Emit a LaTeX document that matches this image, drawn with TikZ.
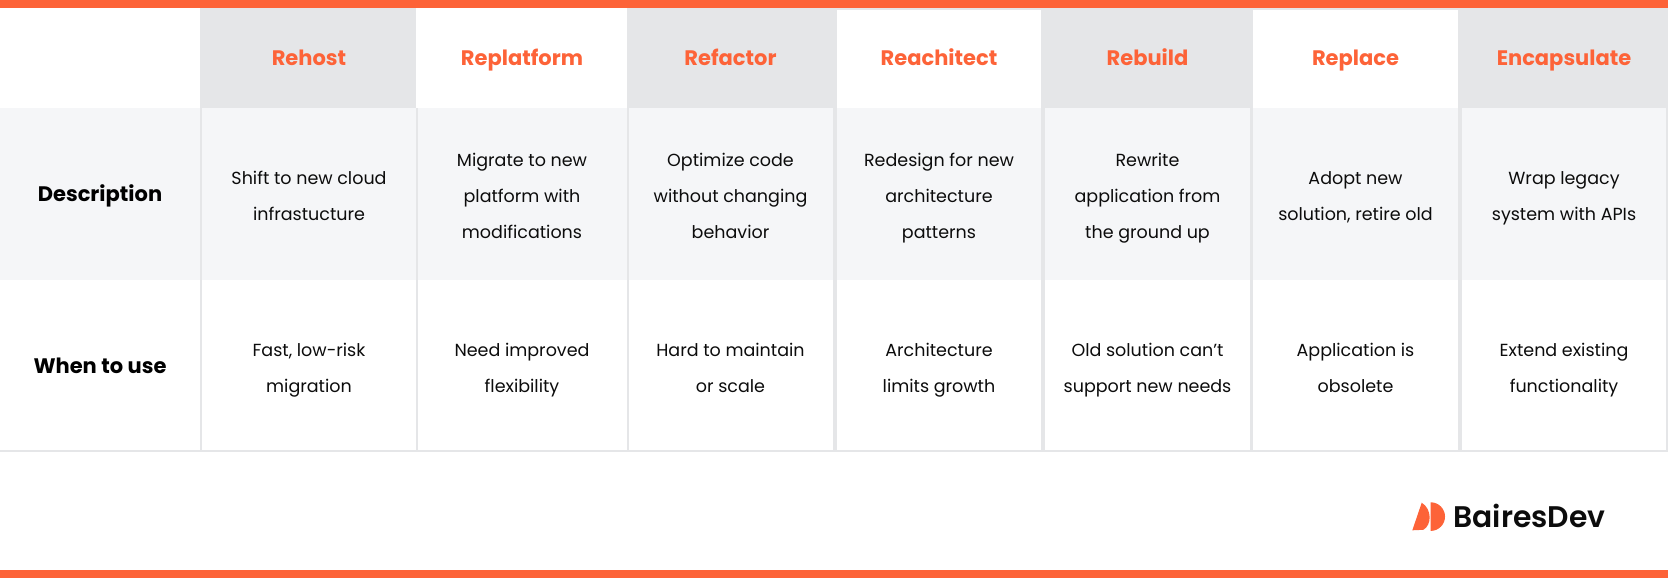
\documentclass[tikz,border=0pt]{standalone}
\usepackage{fontspec}
\setmainfont{Poppins}
\newfontfamily\boldfont{Poppins Bold}
\newfontfamily\medfont{Poppins SemiBold}
\definecolor{brandorange}{HTML}{FD6338}
\definecolor{headgray}{HTML}{E5E6E8}
\definecolor{rowgray}{HTML}{F5F6F8}
\definecolor{inkblack}{HTML}{0C0C0C}
\tikzset{
  x=0.5pt,y=-0.5pt,
  headcell/.style={anchor=base,inner sep=0pt,text=brandorange,font=\boldfont\fontsize{10.5}{12}\selectfont},
  rowcell/.style={anchor=base,inner sep=0pt,text=black,font=\boldfont\fontsize{10.5}{12}\selectfont},
  bodycell/.style={anchor=base,inner sep=0pt,align=center,text=inkblack,font=\fontsize{8.75}{18}\selectfont},
  gridline/.style={draw=none,fill=headgray},
}
\begin{document}
\begin{tikzpicture}
    \useasboundingbox (0,0) rectangle (1668,578);
    \fill[white] (0,0) rectangle (1668,578);
    % bars
    \fill[brandorange] (0,0) rectangle (1668,8);
    \fill[brandorange] (0,569.5) rectangle (1668,577.5);
    % header fields
    \fill[headgray] (836,8) rectangle (1668,10);
    \fill[headgray] (200,8) rectangle (416,108);
    \fill[headgray] (627,8) rectangle (836.5,108);
    \fill[headgray] (1041,8) rectangle (1253,108);
    \fill[headgray] (1458,8) rectangle (1668,108);
    \fill[rowgray] (0,108) rectangle (1668,280);
    % grid
    \fill[gridline] (200,108) rectangle (202,450);
    \fill[gridline] (416,108) rectangle (418,450);
    \fill[gridline] (627,108) rectangle (628.5,450);
    \fill[gridline] (833,108) rectangle (836.5,450);
    \fill[gridline] (1041,108) rectangle (1045,450);
    \fill[gridline] (1249.5,108) rectangle (1253,450);
    \fill[gridline] (1458,108) rectangle (1461.5,450);
    \fill[gridline] (1666,108) rectangle (1668,450);
    \fill[gridline] (0,450) rectangle (1668,452);
    % header row
    \node[headcell] (rehost) at (309,65.5) {Rehost};
    \node[headcell] (replatform) at (522,65.5) {Replatform};
    \node[headcell] (refactor) at (730.5,65.5) {Refactor};
    \node[headcell] (reachitect) at (939,65.5) {Reachitect};
    \node[headcell] (rebuild) at (1147.5,65.5) {Rebuild};
    \node[headcell] (replace) at (1355.5,65.5) {Replace};
    \node[headcell] (encapsulate) at (1564,65.5) {Encapsulate};
    % row names
    \node[rowcell] (description) at (100,201.5) {Description};
    \node[rowcell] (whentouse) at (100,373.3) {When to use};
    % description row
    \node[bodycell] (desc1) at (309,220) {Shift to new cloud\\infrastucture};
    \node[bodycell] (desc2) at (522,238) {Migrate to new\\platform with\\modifications};
    \node[bodycell] (desc3) at (730.5,238) {Optimize code\\without changing\\behavior};
    \node[bodycell] (desc4) at (939,238) {Redesign for new\\architecture\\patterns};
    \node[bodycell] (desc5) at (1147.5,238) {Rewrite\\application from\\the ground up};
    \node[bodycell] (desc6) at (1355.5,220) {Adopt new\\solution, retire old};
    \node[bodycell] (desc7) at (1564,220) {Wrap legacy\\system with APIs};
    % when to use row
    \node[bodycell] (use1) at (309,392) {Fast, low-risk\\migration};
    \node[bodycell] (use2) at (522,392) {Need improved\\flexibility};
    \node[bodycell] (use3) at (730.5,392) {Hard to maintain\\or scale};
    \node[bodycell] (use4) at (939,392) {Architecture\\limits growth};
    \node[bodycell] (use5) at (1147.5,392) {Old solution can’t\\support new needs};
    \node[bodycell] (use6) at (1355.5,392) {Application is\\obsolete};
    \node[bodycell] (use7) at (1564,392) {Extend existing\\functionality};
    % logo
    \fill[brandorange] (1412.3,530.3) -- (1421.7,502.7) .. controls (1432,509) and (1432,525) .. (1423.3,529.8) -- cycle;
    \fill[brandorange] (1430.7,502.3) arc (-90:90:14.3) -- cycle;
    \node[anchor=base west,inner sep=0pt,text=inkblack,font=\medfont\fontsize{14.9}{16}\selectfont] (logotext) at (1453,527.3) {BairesDev};
\end{tikzpicture}
\end{document}
